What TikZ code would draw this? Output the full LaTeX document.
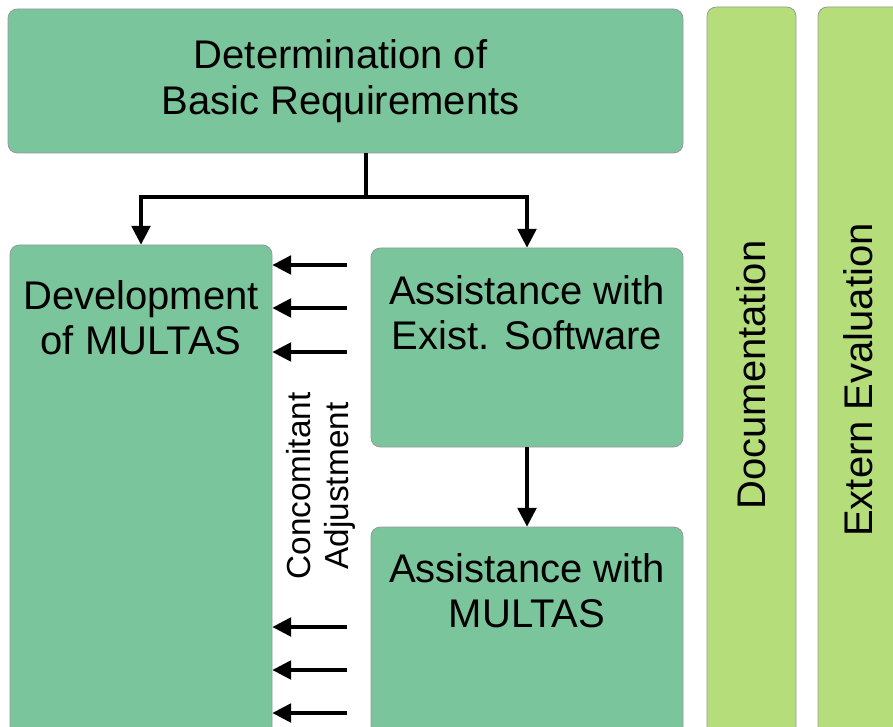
\documentclass[tikz,border=0pt]{standalone}
\usepackage{fontspec}
\setmainfont{Liberation Sans}
\usetikzlibrary{fit,calc,arrows.meta}
\definecolor{boxgreen}{RGB}{122,197,155}
\definecolor{barlime}{RGB}{181,222,123}
\tikzset{every picture/.style={line width=0.75pt}}

\begin{document}
\begin{tikzpicture}[x=0.75pt,y=0.75pt,yscale=-1,xscale=1,
  box/.style={draw=black!40, line width=0.6pt, rounded corners=7pt, inner sep=0pt, fill=boxgreen},
  bar/.style={box, fill=barlime},
  lbl/.style={inner sep=0.75pt, align=center, font=\fontsize{30}{34}\selectfont},
  flow/.style={line width=2.4pt, -{Triangle[length=14pt,width=14pt]}}]
\clip (0,0) rectangle (893,727);

%Shape: Boxes
\node[box, fit={(8,9) (683,153)}] (basic) {};
\node[box, fit={(10,245) (272,745)}] (dev) {};
\node[box, fit={(371,248) (683,447)}] (exist) {};
\node[box, fit={(371,527) (683,745)}] (multas) {};
\node[bar, fit={(707,7) (796,745)}] (doc) {};
\node[bar, fit={(818,7) (920,745)}] (eval) {};

% Text Node
\node[lbl] (basictxt) at ($(basic.center)+(-5,0)$) {Determination of\\Basic Requirements};
\node[lbl] (devtxt) at ($(dev.north)+(0,73)$) {Development\\of MULTAS};
\node[lbl] (existtxt) at ($(exist.north)+(0,65)$) {Assistance with\\Exist. Software};
\node[lbl] (multastxt) at ($(multas.north)+(0,64)$) {Assistance with\\MULTAS};
\node[lbl, rotate=90] (doctxt) at ($(doc.center)+(-0,-1)$) {Documentation};
\node[lbl, rotate=90] (evaltxt) at (858,380) {Extern Evaluation};
\node[lbl, rotate=90, font=\fontsize{25}{28}\selectfont] (adjtxt) at (321,486) {Concomitant\\Adjustment};

%Straight Lines
\coordinate (split) at (366,197);
\draw[line width=2.4pt] (split |- basic.south) -- (split);
\draw[flow] (split) -| (dev.north);
\draw[flow] (split) -| (exist.north);
\draw[flow] (exist.south) -- (multas.north);

%Adjustment arrows
\foreach \y [count=\i] in {265,308,352,627,670,713}{
  \coordinate (adj\i) at (347,\y);
  \draw[flow] (adj\i) -- (adj\i -| dev.east);
}

\end{tikzpicture}
\end{document}
